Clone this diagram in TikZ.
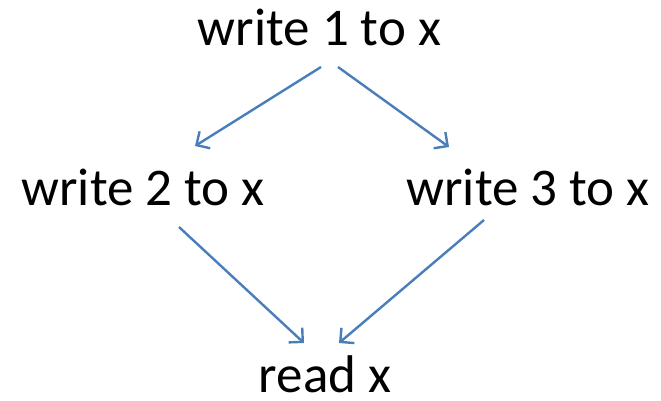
\documentclass[tikz,border=0pt]{standalone}
\usepackage{fontspec}
\setmainfont{Carlito}
\usetikzlibrary{arrows.meta,calc}
\definecolor{arrblue}{HTML}{4A7EBB}
\begin{document}
\begin{tikzpicture}[x=1pt,y=-1pt,
  lbl/.style={anchor=base,inner sep=0pt,font=\fontsize{53}{60}\selectfont},
  arr/.style={draw=arrblue,line width=2.4pt,-{Straight Barb[length=10pt,width=20pt,line width=2.4pt]}}]
\useasboundingbox (0,0) rectangle (661,400);
\node[lbl] (w1) at (319.5,45) {write 1 to x};
\node[lbl] (w2) at (143,205) {write 2 to x};
\node[lbl] (w3) at (528,205) {write 3 to x};
\node[lbl] (r) at (325,392) {read x};
\draw[arr] ($(w1.base)+(1.5,22)$) -- ($(w2.base)+(52,-59)$);
\draw[arr] ($(w1.base)+(18.5,22)$) -- ($(w3.base)+(-79,-58)$);
\draw[arr] ($(w2.base)+(36,22)$) -- ($(r.base)+(-21,-49)$);
\draw[arr] ($(w3.base)+(-44,15)$) -- ($(r.base)+(14,-49)$);
\end{tikzpicture}
\end{document}
